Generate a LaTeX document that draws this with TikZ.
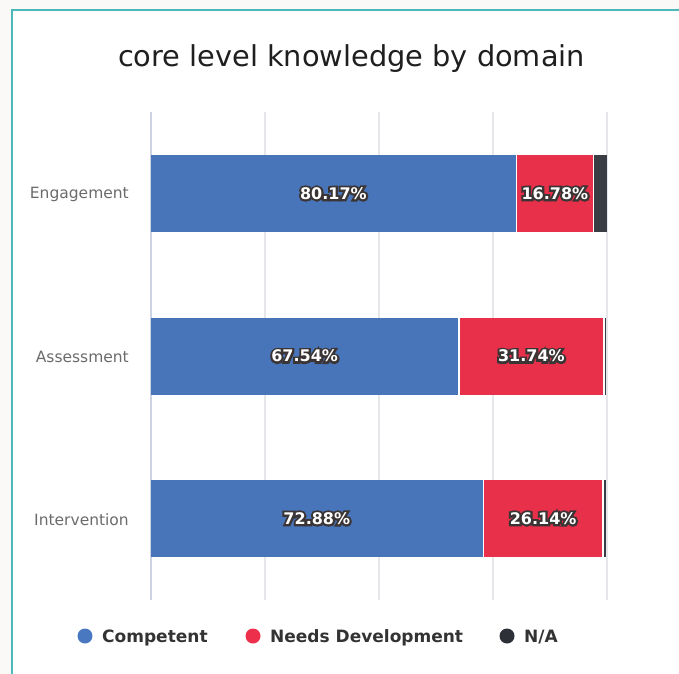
\documentclass[tikz,border=0pt]{standalone}
\usepackage{fontspec}
\setmainfont{DejaVu Sans}
\font\halofnt="DejaVu Sans/B:embolden=26" at 16bp
\font\barfnt="DejaVu Sans/B" at 16bp
\definecolor{outbg}{HTML}{FBF8F8}
\definecolor{frame}{HTML}{4DB8B8}
\definecolor{grid}{HTML}{E6E7EB}
\definecolor{axis0}{HTML}{CDD3E2}
\definecolor{cblue}{HTML}{4875BA}
\definecolor{cred}{HTML}{E9304B}
\definecolor{cdark}{HTML}{3A3D43}
\definecolor{lblue}{HTML}{4A78C0}
\definecolor{lred}{HTML}{EE2F4B}
\definecolor{ldark}{HTML}{2E3038}
\definecolor{halo}{HTML}{3A3434}
\definecolor{ticktext}{HTML}{6B6B6B}
\definecolor{legtext}{HTML}{333333}
\newcommand\outl[1]{\rlap{\halofnt\textcolor{halo}{#1}}{\barfnt\textcolor{white}{#1}}}
\tikzset{
  seg/.style={draw=none, inner sep=0pt, outer sep=0pt, minimum height=77bp, anchor=west},
  gridline/.style={draw=grid, line width=1.5bp},
  cat/.style={anchor=east, inner sep=0pt, text=ticktext, font=\fontsize{15.5bp}{18bp}\selectfont},
  legdot/.style={circle, inner sep=0pt, minimum size=15bp},
  legtxt/.style={anchor=base west, inner sep=0pt, text=legtext, font=\fontsize{17bp}{20bp}\selectfont\bfseries},
}
\begin{document}
\begin{tikzpicture}[x=1bp, y=-1bp]
\useasboundingbox (0,0) rectangle (679,674);
\clip (0,0) rectangle (679,674);
\fill[outbg] (0,0) rectangle (679,674);
\fill[white] (12,10) rectangle (700,700);
\draw[frame, line width=2bp] (12,700) -- (12,10) -- (700,10);
% title
\node[anchor=base, inner sep=0pt, text=black!88, font=\fontsize{28.8bp}{32bp}\selectfont] (title) at (351.5,67) {core level knowledge by domain};
% grid
\foreach \gx/\gn in {265/g1,379/g2,493/g3,607/g4}{
  \coordinate (\gn t) at (\gx,112);
  \coordinate (\gn b) at (\gx,600);
  \draw[gridline] (\gn t) -- (\gn b);
}
\coordinate (g0t) at (151,112);
\coordinate (g0b) at (151,600);
\draw[draw=axis0, line width=1.5bp] (g0t) -- (g0b);
% Engagement
\node[seg, fill=cblue, minimum width=364.8bp] (e1) at (151,193.5) {\outl{80.17\%}};
\node[seg, fill=cred, minimum width=75.2bp] (e2) at (517.3,193.5) {\outl{16.78\%}};
\node[seg, fill=cdark, minimum width=12.6bp] (e3) at (594.3,193.5) {};
% Assessment
\node[seg, fill=cblue, minimum width=307.3bp] (a1) at (151,356) {\outl{67.54\%}};
\node[seg, fill=cred, minimum width=143.6bp] (a2) at (459.6,356) {\outl{31.74\%}};
\node[seg, fill=cdark, minimum width=1.8bp] (a3) at (604.6,356) {};
% Intervention
\node[seg, fill=cblue, minimum width=331.6bp] (i1) at (151,518.5) {\outl{72.88\%}};
\node[seg, fill=cred, minimum width=118.2bp] (i2) at (484,518.5) {\outl{26.14\%}};
\node[seg, fill=cdark, minimum width=2.2bp] (i3) at (603.6,518.5) {};
% categories
\node[cat] (ce) at (129,194.5) {Engagement};
\node[cat] (ca) at (129,357) {Assessment};
\node[cat] (ci) at (129,519.5) {Intervention};
% legend
\node[legdot, fill=lblue] (d1) at (85,636) {};
\node[legtxt] (t1) at (102,642) {Competent};
\node[legdot, fill=lred] (d2) at (253,636) {};
\node[legtxt] (t2) at (270,642) {Needs Development};
\node[legdot, fill=ldark] (d3) at (507,636) {};
\node[legtxt] (t3) at (524,642) {N/A};
\end{tikzpicture}
\end{document}
